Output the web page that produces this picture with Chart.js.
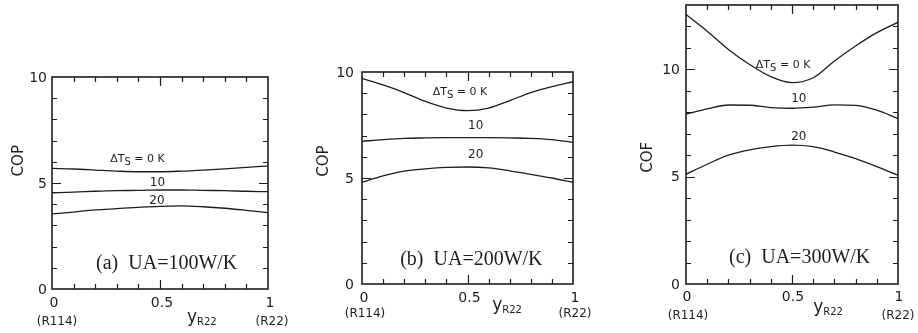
<!DOCTYPE html>
<html>
<head>
<meta charset="utf-8">
<script src="https://cdn.jsdelivr.net/npm/chart.js@4.4.1/dist/chart.umd.min.js"></script>
<style>
  html, body { margin: 0; padding: 0; background: #fff; }
  #wrap { position: relative; width: 918px; height: 333px; background: #fff; overflow: hidden; }
  #wrap canvas { position: absolute; top: 0; }
</style>
</head>
<body>
<div id="wrap">
  <canvas id="pa" width="306" height="333" style="left:0px"></canvas>
  <canvas id="pb" width="306" height="333" style="left:306px"></canvas>
  <canvas id="pc" width="306" height="333" style="left:612px"></canvas>
</div>
<script>
// Mole fraction of R22 in the R114/R22 mixture
const yR22 = [0, 0.1, 0.2, 0.3, 0.4, 0.5, 0.6, 0.7, 0.8, 0.9, 1.0];

// (a) UA = 100 W/K
const copA_dT0  = [5.69, 5.66, 5.61, 5.56, 5.53, 5.53, 5.56, 5.61, 5.67, 5.74, 5.80];
const copA_dT10 = [4.54, 4.57, 4.61, 4.64, 4.65, 4.67, 4.67, 4.65, 4.64, 4.61, 4.59];
const copA_dT20 = [3.54, 3.63, 3.73, 3.79, 3.85, 3.90, 3.92, 3.88, 3.81, 3.71, 3.60];

// (b) UA = 200 W/K
const copB_dT0  = [9.70, 9.39, 9.03, 8.61, 8.30, 8.18, 8.30, 8.65, 9.03, 9.31, 9.54];
const copB_dT10 = [6.73, 6.81, 6.87, 6.89, 6.90, 6.90, 6.90, 6.89, 6.87, 6.81, 6.68];
const copB_dT20 = [4.80, 5.10, 5.32, 5.43, 5.50, 5.52, 5.48, 5.34, 5.17, 5.00, 4.80];

// (c) UA = 300 W/K
const copC_dT0  = [12.56, 11.78, 10.93, 10.23, 9.66, 9.38, 9.61, 10.39, 11.09, 11.71, 12.20];
const copC_dT10 = [7.91, 8.16, 8.34, 8.33, 8.22, 8.19, 8.24, 8.35, 8.32, 8.10, 7.71];
const copC_dT20 = [5.12, 5.58, 6.00, 6.25, 6.40, 6.47, 6.40, 6.15, 5.84, 5.47, 5.07];

// Tick labels
const xTickLabels = ['0', '0.5', '1'];
const xTickValues = [0, 0.5, 1];
const yTickValues = [0, 5, 10];
const curveLabels = ['10', '20'];

const INK = '#1d1d1d';
const SANS = "'DejaVu Sans', sans-serif";
const SERIF = "'Liberation Serif', 'Times New Roman', serif";

// draw a sequence of text runs (font, text, vertical shift) as one line
function drawRuns(ctx, runs, x, y, align) {
  let w = 0;
  runs.forEach(r => { ctx.font = r.font; w += ctx.measureText(r.text).width; });
  let cx = align === 'center' ? x - w / 2 : x;
  ctx.textAlign = 'left';
  runs.forEach(r => {
    ctx.font = r.font;
    ctx.fillText(r.text, cx, y + (r.dy || 0));
    cx += ctx.measureText(r.text).width;
  });
}

function axesPlugin(cfg) {
  return {
    id: 'frameAndText',
    afterDatasetsDraw(chart) {
      const ctx = chart.ctx;
      const a = chart.chartArea;
      const xs = chart.scales.x, ys = chart.scales.y;
      ctx.save();
      ctx.strokeStyle = INK;
      ctx.fillStyle = INK;

      // inward tick marks on all four sides
      ctx.lineWidth = 1.2;
      ctx.beginPath();
      for (let i = 1; i < 10; i++) {
        const v = i / 10;
        const px = Math.round(xs.getPixelForValue(v)) + 0.5;
        const len = (i === 5) ? 9 : 5;
        ctx.moveTo(px, a.bottom); ctx.lineTo(px, a.bottom - len);
        ctx.moveTo(px, a.top); ctx.lineTo(px, a.top + len);
      }
      for (let v = 1; v < cfg.ymax; v++) {
        const py = Math.round(ys.getPixelForValue(v)) + 0.5;
        const len = (v % 5 === 0) ? 9 : 5;
        ctx.moveTo(a.left, py); ctx.lineTo(a.left + len, py);
        ctx.moveTo(a.right, py); ctx.lineTo(a.right - len, py);
      }
      ctx.stroke();

      // frame
      ctx.lineWidth = 1.6;
      ctx.strokeRect(a.left, a.top, a.right - a.left, a.bottom - a.top);

      // x tick labels
      ctx.font = '14px ' + SANS;
      ctx.textAlign = 'center';
      ctx.textBaseline = 'middle';
      xTickValues.forEach((v, i) => {
        ctx.fillText(xTickLabels[i], xs.getPixelForValue(v) + cfg.xLabShift, a.bottom + cfg.xLabGap);
      });
      // y tick labels
      ctx.textAlign = 'right';
      yTickValues.forEach(v => {
        ctx.fillText(String(v), a.left - cfg.yLabGap, ys.getPixelForValue(v) + 1);
      });

      // end-member names
      ctx.font = '12px ' + SANS;
      ctx.textAlign = 'center';
      ctx.fillText('(R114)', xs.getPixelForValue(0) + cfg.endShiftL, a.bottom + cfg.endGap);
      ctx.fillText('(R22)', xs.getPixelForValue(1) + cfg.endShiftR, a.bottom + cfg.endGap);

      // x axis title: y with subscript R22
      ctx.textBaseline = 'alphabetic';
      drawRuns(ctx, [
        { font: '17px ' + SANS, text: 'y' },
        { font: '10px ' + SANS, text: 'R22', dy: 3.5 }
      ], xs.getPixelForValue(cfg.xTitleAt), a.bottom + cfg.xTitleGap, 'left');

      // y axis title
      ctx.save();
      ctx.translate(a.left - cfg.yTitleGap, ys.getPixelForValue(cfg.yTitleAt));
      ctx.rotate(-Math.PI / 2);
      ctx.font = '15px ' + SANS;
      ctx.textAlign = 'center';
      ctx.textBaseline = 'middle';
      ctx.fillText(cfg.yTitle, 0, 0);
      ctx.restore();

      // curve labels
      ctx.textBaseline = 'middle';
      drawRuns(ctx, [
        { font: '11px ' + SANS, text: '\u0394T' },
        { font: '10px ' + SANS, text: 'S', dy: 3 },
        { font: '11px ' + SANS, text: ' = 0 K' }
      ], xs.getPixelForValue(cfg.lab0[0]), ys.getPixelForValue(cfg.lab0[1]), 'center');
      ctx.font = '12px ' + SANS;
      ctx.textAlign = 'center';
      ctx.fillText(curveLabels[0], xs.getPixelForValue(cfg.lab10[0]), ys.getPixelForValue(cfg.lab10[1]));
      ctx.fillText(curveLabels[1], xs.getPixelForValue(cfg.lab20[0]), ys.getPixelForValue(cfg.lab20[1]));

      // panel caption
      ctx.font = '20px ' + SERIF;
      ctx.textAlign = 'left';
      ctx.fillText(cfg.caption, xs.getPixelForValue(cfg.capAt[0]), ys.getPixelForValue(cfg.capAt[1]));

      ctx.restore();
    }
  };
}

function makePanel(id, series, cfg) {
  new Chart(document.getElementById(id), {
    type: 'line',
    data: {
      datasets: series.map(s => ({
        data: yR22.map((x, i) => ({ x: x, y: s[i] })),
        borderColor: INK,
        borderWidth: 1.3,
        pointRadius: 0,
        fill: false,
        cubicInterpolationMode: 'monotone'
      }))
    },
    options: {
      responsive: false,
      animation: false,
      events: [],
      layout: { padding: cfg.pad },
      plugins: { legend: { display: false }, tooltip: { enabled: false } },
      scales: {
        x: { type: 'linear', min: 0, max: 1, display: false },
        y: { type: 'linear', min: 0, max: cfg.ymax, display: false }
      }
    },
    plugins: [axesPlugin(cfg)]
  });
}

makePanel('pa', [copA_dT0, copA_dT10, copA_dT20], {
  pad: { left: 52, right: 38, top: 77, bottom: 44 },
  ymax: 10,
  xLabShift: 2, xLabGap: 14, yLabGap: 5,
  endShiftL: 5, endShiftR: 4, endGap: 33,
  xTitleAt: 0.625, xTitleGap: 32.5,
  yTitle: 'COP', yTitleGap: 33, yTitleAt: 6.05,
  lab0: [0.396, 6.11], lab10: [0.488, 5.02], lab20: [0.486, 4.17],
  caption: '(a)  UA=100W/K', capAt: [0.204, 1.2]
});

makePanel('pb', [copB_dT0, copB_dT10, copB_dT20], {
  pad: { left: 56, right: 39, top: 72, bottom: 49 },
  ymax: 10,
  xLabShift: 2, xLabGap: 14, yLabGap: 8,
  endShiftL: 3, endShiftR: 2, endGap: 30,
  xTitleAt: 0.617, xTitleGap: 25.5,
  yTitle: 'COP', yTitleGap: 38, yTitleAt: 5.8,
  lab0: [0.464, 9.06], lab10: [0.539, 7.45], lab20: [0.539, 6.08],
  caption: '(b)  UA=200W/K', capAt: [0.181, 1.13]
});

makePanel('pc', [copC_dT0, copC_dT10, copC_dT20], {
  pad: { left: 74, right: 20, top: 5, bottom: 49 },
  ymax: 13,
  xLabShift: 1, xLabGap: 13.5, yLabGap: 6,
  endShiftL: 2, endShiftR: 0, endGap: 31.5,
  xTitleAt: 0.6, xTitleGap: 27.5,
  yTitle: 'COF', yTitleGap: 38, yTitleAt: 5.9,
  lab0: [0.458, 10.19], lab10: [0.532, 8.62], lab20: [0.532, 6.85],
  caption: '(c)  UA=300W/K', capAt: [0.203, 1.24]
});
</script>
</body>
</html>
